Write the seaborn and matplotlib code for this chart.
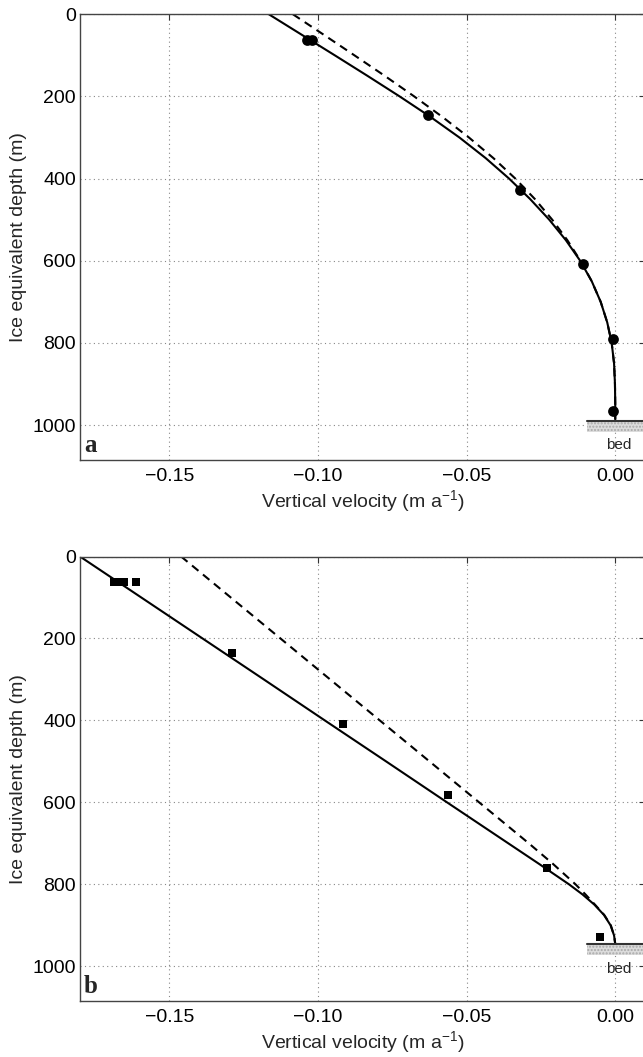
import numpy as np
import pandas as pd
import matplotlib
matplotlib.use("Agg")
import matplotlib.pyplot as plt
import seaborn as sns

a_obs_v = [-0.1035, -0.1020, -0.063, -0.032, -0.011, -0.0009, -0.0008]
a_obs_d = [63, 63, 246, 428, 608, 790, 966]
a_solid_d = [0, 50, 100, 150, 200, 250, 300, 350, 400, 450, 500, 550, 600, 650, 700,
             750, 800, 850, 900, 950, 990]
a_solid_v = [-0.1165, -0.1054, -0.0943, -0.0833, -0.0725, -0.0621, -0.0524, -0.0436,
             -0.0357, -0.0286, -0.0222, -0.0166, -0.0118, -0.0079, -0.0049, -0.0027,
             -0.0012, -0.0004, -0.0001, 0.0, 0.0]
a_dash_d = [0, 50, 100, 150, 200, 250, 300, 350, 400, 450, 500, 550, 600, 650, 700,
            750, 800, 850, 900, 950, 990]
a_dash_v = [-0.1084, -0.0980, -0.0877, -0.0775, -0.0676, -0.0581, -0.0492, -0.0410,
            -0.0336, -0.0270, -0.0212, -0.0161, -0.0117, -0.0079, -0.0049, -0.0027,
            -0.0012, -0.0004, -0.0001, 0.0, 0.0]
a_bed = (990, 1016)

# Panel b: measured points (squares) and model curves
b_obs_v = [-0.1685, -0.1668, -0.1652, -0.1611, -0.129, -0.0914, -0.0563, -0.023, -0.005]
b_obs_d = [63, 63, 63, 63, 236, 410, 582, 760, 930]
b_solid_d = [0, 100, 200, 300, 400, 500, 600, 700, 750, 800, 825, 850, 875, 900, 925, 946]
b_solid_v = [-0.1800, -0.1594, -0.1388, -0.1182, -0.0977, -0.0771, -0.0566, -0.0360,
             -0.0257, -0.0156, -0.0110, -0.0070, -0.0038, -0.0016, -0.0004, 0.0]
b_dash_d = [0, 100, 200, 300, 400, 500, 600, 700, 750, 800, 825, 850, 875, 900, 925, 946]
b_dash_v = [-0.1460, -0.1293, -0.1126, -0.0959, -0.0792, -0.0625, -0.0458, -0.0291,
            -0.0210, -0.0134, -0.0100, -0.0068, -0.0037, -0.0015, -0.0004, 0.0]
b_bed = (946, 972)

xticks = [-0.15, -0.10, -0.05, 0.00]
yticks = [0, 200, 400, 600, 800, 1000]

sns.set_style("white")
plt.rcParams['font.family'] = ['Liberation Sans', 'DejaVu Sans']
plt.rcParams['mathtext.fontset'] = 'custom'
plt.rcParams['mathtext.rm'] = 'Liberation Sans'

fig = plt.figure(figsize=(6.43, 10.57), dpi=100)
ax_a = fig.add_axes([0.1244, 0.5648, 0.8787, 0.4217])
ax_b = fig.add_axes([0.1244, 0.0530, 0.8787, 0.4205])


def draw_panel(ax, obs_v, obs_d, marker, msize, solid_v, solid_d, dash_v, dash_d, bed, bed_text_d, letter):
    sol = pd.DataFrame({'v': solid_v, 'd': solid_d})
    das = pd.DataFrame({'v': dash_v, 'd': dash_d})
    obs = pd.DataFrame({'v': obs_v, 'd': obs_d})
    sns.lineplot(data=das, x='v', y='d', sort=False, estimator=None, ax=ax,
                 color='black', lw=1.5, linestyle=(0, (4, 2.8)))
    sns.lineplot(data=sol, x='v', y='d', sort=False, estimator=None, ax=ax,
                 color='black', lw=1.5)
    sns.scatterplot(data=obs, x='v', y='d', marker=marker, s=msize, color='black',
                    edgecolor='black', linewidth=0, ax=ax, zorder=5)
    # bed
    ax.fill_betweenx(list(bed), -0.0095, 0.012, facecolor='#dcdcdc', edgecolor='#a8a8a8',
                     hatch='.....', linewidth=0, zorder=3)
    ax.plot([-0.0095, 0.012], [bed[0], bed[0]], color='#333333', lw=1.5, zorder=4)
    ax.text(0.0012, bed_text_d, 'bed', fontsize=11, ha='center', va='center')
    ax.text(-0.1787, 1066, letter, fontsize=18, fontweight='bold',
            family=['Liberation Serif', 'DejaVu Serif'], ha='left', va='baseline')

    ax.set_xlim(-0.18, 0.01)
    ax.set_ylim(1085, 0)
    ax.set_xticks(xticks)
    ax.set_yticks(yticks)
    ax.xaxis.set_major_formatter(plt.FuncFormatter(lambda x, p: ('%.2f' % x).replace('-', '\u2212')))
    ax.tick_params(direction='in', length=4, width=0.8, labelsize=14, colors='#333333',
                   labelcolor='black', top=True, right=True)
    ax.tick_params(axis='x', pad=6)
    ax.tick_params(axis='y', pad=3)
    ax.grid(True, linestyle=(0, (1, 3)), color='#888888', linewidth=0.8)
    for s in ax.spines.values():
        s.set_color('#444444')
        s.set_linewidth(1.0)
    ax.set_xlabel('Vertical velocity (m a$^{-1}$)', fontsize=14, labelpad=2)
    ax.set_ylabel('Ice equivalent depth (m)', fontsize=14, labelpad=4)


draw_panel(ax_a, a_obs_v, a_obs_d, 'o', 60, a_solid_v, a_solid_d, a_dash_v, a_dash_d,
           a_bed, 1049, 'a')
draw_panel(ax_b, b_obs_v, b_obs_d, 's', 40, b_solid_v, b_solid_d, b_dash_v, b_dash_d,
           b_bed, 1006, 'b')

fig.savefig('out.png', dpi=100)
